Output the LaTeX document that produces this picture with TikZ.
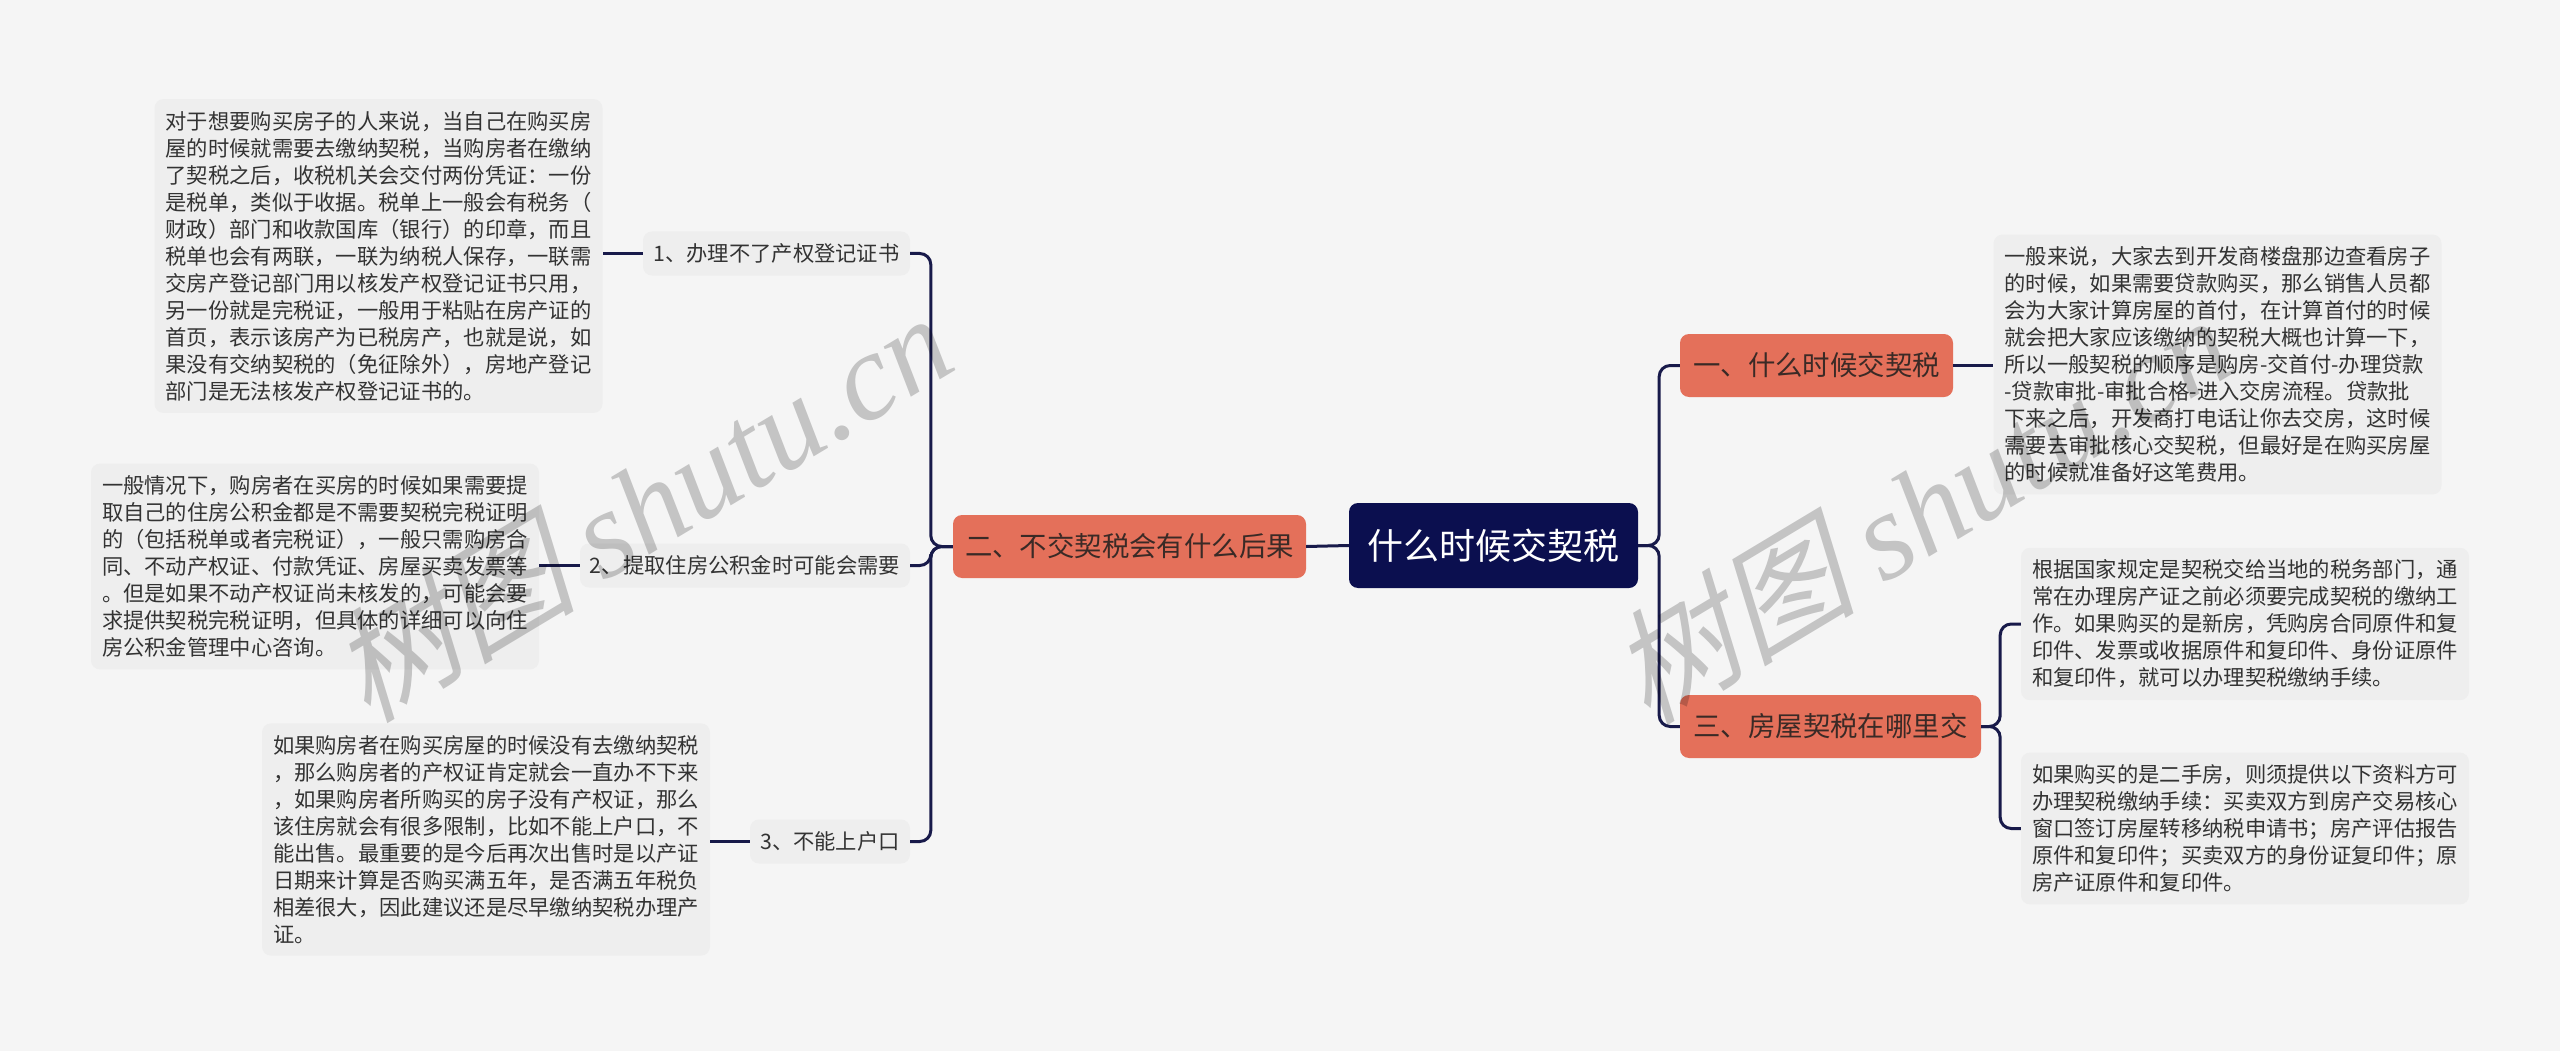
\documentclass[tikz,border=0pt]{standalone}
\usepackage{fontspec}
\setmainfont{Noto Sans CJK SC}
\newfontfamily\wmlatin{Liberation Serif}
\newfontfamily\wmcjk[FakeSlant=0.25]{Noto Sans CJK SC}
\usetikzlibrary{calc}
\definecolor{bgc}{HTML}{F5F5F5}
\definecolor{leafbg}{HTML}{EEEEEE}
\definecolor{navy}{HTML}{0B0F4F}
\definecolor{salmon}{HTML}{E4705A}
\definecolor{linec}{HTML}{181A4A}
\definecolor{txt}{HTML}{333333}
\definecolor{maintxt}{HTML}{3A2A26}
\tikzset{
  leaf/.style={fill=leafbg, rounded corners=9pt, text=txt, align=left,
    inner xsep=11pt, inner ysep=12pt, font=\fontsize{21.3}{27}\selectfont},
  subnode/.style={fill=leafbg, rounded corners=9pt, text=txt, inner sep=0pt,
    minimum height=44pt, font=\fontsize{21.3}{27}\selectfont},
  mainnode/.style={fill=salmon, rounded corners=9pt, text=maintxt, inner sep=0pt,
    minimum height=63pt, font=\fontsize{27.4}{30}\selectfont},
  rootnode/.style={fill=navy, rounded corners=9pt, text=white, inner sep=0pt,
    minimum width=289pt, minimum height=85pt, font=\fontsize{36}{40}\selectfont},
  conn/.style={draw=linec, line width=3pt, rounded corners=11pt},
  wm/.style={text=black, text opacity=0.2, inner sep=0pt, rotate=31,
    font=\fontsize{124}{132}\selectfont}
}
\begin{document}
\begin{tikzpicture}[x=1pt,y=-1pt]
\fill[bgc] (0,0) rectangle (2560,1051);
\useasboundingbox (0,0) rectangle (2560,1051);

% root and main branches
\node[rootnode] (root) at (1493.5,545.5) {什么时候交契税};
\node[mainnode, minimum width=353pt] (m2) at (1129.5,546.5) {二、不交契税会有什么后果};
\node[mainnode, minimum width=273pt] (m1) at (1816.5,365.5) {一、什么时候交契税};
\node[mainnode, minimum width=301pt] (m3) at (1830.5,726.5) {三、房屋契税在哪里交};

% left sub nodes
\node[subnode, minimum width=267pt] (s1) at (776.5,253.5) {1、办理不了产权登记证书};
\node[subnode, minimum width=330pt] (s2) at (745,565.5) {2、提取住房公积金时可能会需要};
\node[subnode, minimum width=160pt] (s3) at (830,841.5) {3、不能上户口};

% left leaves
\node[leaf] (l1) at (378.5,256) {对于想要购买房子的人来说，当自己在购买房\\屋的时候就需要去缴纳契税，当购房者在缴纳\\了契税之后，收税机关会交付两份凭证：一份\\是税单，类似于收据。税单上一般会有税务（\\财政）部门和收款国库（银行）的印章，而且\\税单也会有两联，一联为纳税人保存，一联需\\交房产登记部门用以核发产权登记证书只用，\\另一份就是完税证，一般用于粘贴在房产证的\\首页，表示该房产为已税房产，也就是说，如\\果没有交纳契税的（免征除外），房地产登记\\部门是无法核发产权登记证书的。};
\node[leaf] (l2) at (315,566.5) {一般情况下，购房者在买房的时候如果需要提\\取自己的住房公积金都是不需要契税完税证明\\的（包括税单或者完税证），一般只需购房合\\同、不动产权证、付款凭证、房屋买卖发票等\\。但是如果不动产权证尚未核发的，可能会要\\求提供契税完税证明，但具体的详细可以向住\\房公积金管理中心咨询。};
\node[leaf] (l3) at (486,839.5) {如果购房者在购买房屋的时候没有去缴纳契税\\，那么购房者的产权证肯定就会一直办不下来\\，如果购房者所购买的房子没有产权证，那么\\该住房就会有很多限制，比如不能上户口，不\\能出售。最重要的是今后再次出售时是以产证\\日期来计算是否购买满五年，是否满五年税负\\相差很大，因此建议还是尽早缴纳契税办理产\\证。};

% right leaves
\node[leaf] (r1) at (2217.5,364.5) {一般来说，大家去到开发商楼盘那边查看房子\\的时候，如果需要贷款购买，那么销售人员都\\会为大家计算房屋的首付，在计算首付的时候\\就会把大家应该缴纳的契税大概也计算一下，\\所以一般契税的顺序是购房-交首付-办理贷款\\-贷款审批-审批合格-进入交房流程。贷款批\\下来之后，开发商打电话让你去交房，这时候\\需要去审批核心交契税，但最好是在购买房屋\\的时候就准备好这笔费用。};
\node[leaf] (r2) at (2245,624) {根据国家规定是契税交给当地的税务部门，通\\常在办理房产证之前必须要完成契税的缴纳工\\作。如果购买的是新房，凭购房合同原件和复\\印件、发票或收据原件和复印件、身份证原件\\和复印件，就可以办理契税缴纳手续。};
\node[leaf] (r3) at (2245,828.5) {如果购买的是二手房，则须提供以下资料方可\\办理契税缴纳手续：买卖双方到房产交易核心\\窗口签订房屋转移纳税申请书；房产评估报告\\原件和复印件；买卖双方的身份证复印件；原\\房产证原件和复印件。};

% connectors
\draw[conn] (root.west) -- (m2.east);
\draw[conn] (m2.west) -- ++(-22,0) |- (s1.east);
\draw[conn] (m2.west) -- ++(-22,0) |- (s2.east);
\draw[conn] (m2.west) -- ++(-22,0) |- (s3.east);
\draw[conn] (s1.west) -- (s1.west -| l1.east);
\draw[conn] (s2.west) -- (s2.west -| l2.east);
\draw[conn] (s3.west) -- (s3.west -| l3.east);

\draw[conn] (root.east) -- ++(21,0) |- (m1.west);
\draw[conn] (root.east) -- ++(21,0) |- (m3.west);
\draw[conn] (m1.east) -- (m1.east -| r1.west);
\draw[conn] (m3.east) -- ++(19,0) |- (r2.west);
\draw[conn] (m3.east) -- ++(19,0) |- (r3.west);

% watermarks
\node[wm] (wmleft) at (640,506) {{\wmcjk 树图} {\wmlatin\itshape shutu.cn}};
\node[wm] (wmright) at (1920,508) {{\wmcjk 树图} {\wmlatin\itshape shutu.cn}};
\end{tikzpicture}
\end{document}
